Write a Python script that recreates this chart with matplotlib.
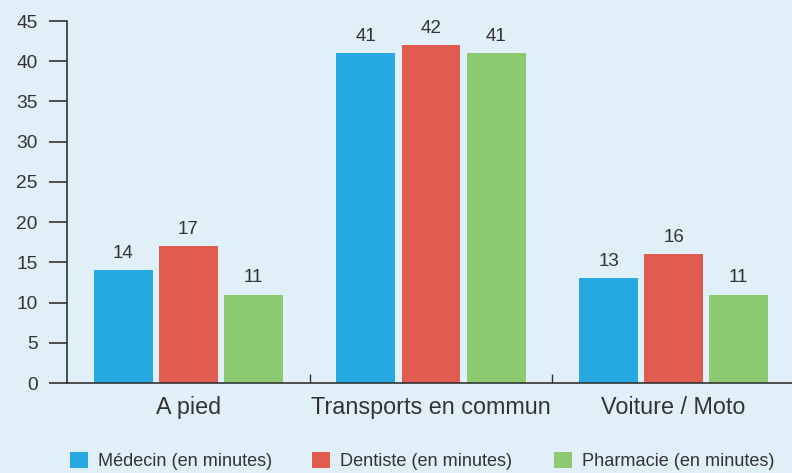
import numpy as np
import matplotlib
matplotlib.use("Agg")
import matplotlib.pyplot as plt
from matplotlib.patches import Patch

categories = ["A pied", "Transports en commun", "Voiture / Moto"]
series = ["Médecin (en minutes)", "Dentiste (en minutes)", "Pharmacie (en minutes)"]
medecin = [14, 41, 13]
dentiste = [17, 42, 16]
pharmacie = [11, 41, 11]
yticks = [0, 5, 10, 15, 20, 25, 30, 35, 40, 45]

colors = ["#25a9e0", "#e05b50", "#8dc96e"]
bg = "#e1eff9"
ink = "#333333"

plt.rcParams['font.family'] = ['Liberation Sans', 'DejaVu Sans']

fig = plt.figure(figsize=(7.92, 4.73), dpi=100, facecolor=bg)
ax = fig.add_axes([67/792, 90/473, 728/792, 362/473])
ax.set_facecolor(bg)

x = np.arange(len(categories))
width = 0.243
step = 0.268
for i, (vals, col) in enumerate(zip([medecin, dentiste, pharmacie], colors)):
    pos = x + (i - 1) * step
    bars = ax.bar(pos, vals, width, color=col, zorder=2)
    for b, v in zip(bars, vals):
        ax.text(b.get_x() + b.get_width()/2, v + 1.0, str(v), ha='center', va='bottom',
                fontsize=13.5, color=ink)

ax.set_xlim(-0.5, 2.5)
ax.set_ylim(0, 45)
ax.set_yticks(yticks)
ax.set_xticks(x)
ax.set_xticklabels(categories, fontsize=16.8, color=ink)
ax.set_xticks([0.5, 1.5], minor=True)
ax.tick_params(axis='x', which='major', length=0, pad=9)
ax.tick_params(axis='x', which='minor', direction='in', length=6.5, width=1, color=ink)
ax.tick_params(axis='y', length=13, width=1.2, color=ink, labelsize=13.8, labelcolor=ink, pad=8)

for s in ['top', 'right']:
    ax.spines[s].set_visible(False)
for s in ['left', 'bottom']:
    ax.spines[s].set_color(ink)
    ax.spines[s].set_linewidth(1.2)

# one legend per entry so each lines up under its group
legend_x = [70, 312, 554]
for name, col, lx in zip(series, colors, legend_x):
    leg = fig.legend([Patch(facecolor=col, edgecolor='none')], [name], loc='lower left',
                     bbox_to_anchor=(lx/792, 3/473), frameon=False, fontsize=13.1,
                     handlelength=1.0, handleheight=1.0, handletextpad=0.55,
                     labelcolor=ink, borderaxespad=0, borderpad=0)

fig.savefig("out.png", dpi=100, facecolor=bg)
